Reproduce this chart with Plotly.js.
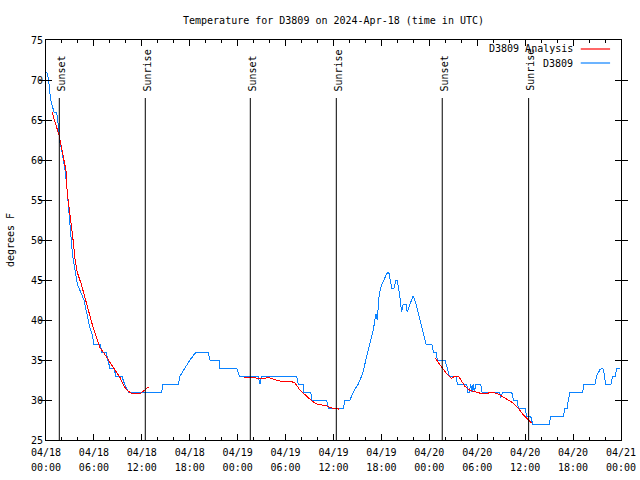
<!DOCTYPE html>
<html>
<head>
<meta charset="utf-8">
<script src="https://cdn.plot.ly/plotly-3.0.1.min.js"></script>
<style>
html,body{margin:0;padding:0;background:#fff;}
#chart{width:640px;height:480px;}
#chart .scatterlayer path.js-line{shape-rendering:crispEdges;}
</style>
</head>
<body>
<div id="chart"></div>
<script>
// ---- Data ----
const day18 = "2024-04-18 ", day19 = "2024-04-19 ", day20 = "2024-04-20 ";

const obsTime = [
  day18+"00:05", day18+"00:20", day18+"00:35", day18+"01:00", day18+"01:20", day18+"01:35", day18+"01:40",
  day18+"01:55", day18+"02:10", day18+"02:25", day18+"02:40", day18+"02:50", day18+"03:00", day18+"03:10",
  day18+"03:20", day18+"03:40", day18+"03:55", day18+"04:20", day18+"04:45", day18+"05:30", day18+"05:50",
  day18+"06:00", day18+"06:45", day18+"07:00", day18+"07:30", day18+"08:00", day18+"08:30", day18+"08:45",
  day18+"09:30", day18+"09:50", day18+"10:20", day18+"14:30", day18+"14:36", day18+"16:34", day18+"16:47",
  day18+"17:24", day18+"18:02", day18+"18:47", day18+"20:19", day18+"20:32", day18+"21:42", day18+"21:47",
  day18+"23:53",
  day19+"00:12", day19+"02:33", day19+"02:48", day19+"03:00", day19+"07:23", day19+"07:35", day19+"08:13",
  day19+"08:18", day19+"09:09", day19+"09:18", day19+"11:09", day19+"11:21", day19+"13:14", day19+"13:26",
  day19+"14:04", day19+"14:29", day19+"15:06", day19+"15:39", day19+"16:10", day19+"16:34", day19+"16:59",
  day19+"17:19", day19+"17:29", day19+"17:44", day19+"18:02", day19+"18:19", day19+"18:40", day19+"18:55",
  day19+"19:04", day19+"19:17", day19+"19:35", day19+"19:50", day19+"19:59", day19+"20:14", day19+"20:32",
  day19+"20:44", day19+"21:05", day19+"21:14", day19+"21:35", day19+"21:59", day19+"22:25", day19+"22:50",
  day19+"23:15", day19+"23:35",
  day20+"00:18", day20+"00:30", day20+"00:50", day20+"01:00", day20+"01:58", day20+"02:10", day20+"02:30",
  day20+"03:20", day20+"03:30", day20+"04:41", day20+"04:50", day20+"05:00", day20+"05:11", day20+"05:20",
  day20+"05:30", day20+"05:38", day20+"05:50", day20+"06:26", day20+"06:36", day20+"08:46", day20+"08:58",
  day20+"09:11", day20+"10:19", day20+"10:31", day20+"11:01", day20+"11:08", day20+"11:59", day20+"12:11",
  day20+"12:41", day20+"12:56", day20+"15:01", day20+"15:12", day20+"16:47", day20+"16:59", day20+"17:16",
  day20+"17:24", day20+"17:37", day20+"19:12", day20+"19:22", day20+"20:45", day20+"20:57", day20+"21:22",
  day20+"21:43", day20+"21:58", day20+"22:02", day20+"22:45", day20+"22:58", day20+"23:17", day20+"23:28",
  day20+"23:50"
];
const obsTemp = [
  71, 70, 67.5, 66, 66, 64, 62.5,
  61.5, 60, 58.5, 56, 54, 52, 50,
  48, 46, 44.5, 43.5, 42.5, 39, 38,
  37, 37, 36, 36, 34, 34, 33,
  33, 32, 31, 31, 32, 32, 33,
  34, 35, 36, 36, 35, 35, 34,
  34,
  33, 33, 32, 33, 33, 32, 32,
  31, 31, 30, 30, 29, 29, 30,
  30, 31, 32, 33.3, 35.5, 37.3, 38.75,
  40.8, 40, 43.3, 44.4, 45, 45.8, 46,
  45.3, 44, 44, 45, 45, 43.5, 41,
  42, 42, 41, 42, 43, 41.7, 40,
  38.3, 37,
  37, 36, 36, 35, 35, 34.2, 33,
  33, 32, 32, 31, 31, 32, 31,
  32, 31, 32, 32, 31, 31, 30.3,
  31, 31, 30, 30, 29, 29, 28,
  28, 27, 27, 28, 28, 29, 29,
  30, 31, 31, 32, 32, 33, 33.8,
  34, 33, 32, 32, 33, 33, 34,
  34
];

// analysis segments (null = gap between segments)
const anaTime = [
  day18+"00:45", day18+"01:25", day18+"01:40", day18+"02:10", day18+"02:30", day18+"02:40", day18+"03:10",
  day18+"03:25", day18+"03:36", day18+"03:51", day18+"04:06", day18+"04:25", day18+"04:51", day18+"05:31",
  day18+"05:55", day18+"06:21", day18+"06:46", day18+"07:10", day18+"07:48", day18+"08:26", day18+"08:51",
  day18+"09:16", day18+"09:41", day18+"10:06", day18+"10:46", day18+"11:46", day18+"12:11", day18+"12:24",
  day18+"12:49",
  day18+"18:00",
  day19+"00:48", day19+"01:57", day19+"02:35", day19+"03:12", day19+"03:50", day19+"04:28", day19+"05:05",
  day19+"05:31", day19+"06:46", day19+"07:11", day19+"07:48", day19+"08:39", day19+"09:16", day19+"09:54",
  day19+"10:31", day19+"11:09", day19+"11:46", day19+"12:24", day19+"12:44",
  day19+"18:00",
  day20+"00:45", day20+"01:20", day20+"01:45", day20+"02:10", day20+"02:48", day20+"03:13", day20+"03:38",
  day20+"04:03", day20+"04:28", day20+"05:05", day20+"05:56", day20+"06:33", day20+"07:11", day20+"07:49",
  day20+"08:38", day20+"09:16", day20+"09:53", day20+"10:31", day20+"11:08", day20+"11:41", day20+"12:06",
  day20+"12:31", day20+"12:49"
];
const anaTemp = [
  66, 64, 63, 60.4, 58.7, 55.8, 52,
  49.8, 47.9, 46.2, 45.4, 44.5, 42.9, 40.4,
  39, 37.7, 36.5, 36, 35, 34.1, 33.3,
  32.8, 31.9, 31.25, 30.8, 30.8, 31.1, 31.3,
  31.6,
  null,
  32.8, 32.8, 32.7, 32.7, 32.8, 32.6, 32.4,
  32.3, 32.3, 32.1, 31.25, 30.5, 29.9, 29.5,
  29.4, 29.25, 29, 29, 28.8,
  null,
  35.2, 34.4, 33.8, 33.3, 32.7, 33, 33,
  32.3, 31.7, 31.2, 31, 30.8, 30.8, 31,
  30.75, 30.4, 30, 29.6, 29, 28.25, 27.8,
  27.4, 27.1
];

const sunTime = [day18+"01:40", day18+"12:26", day19+"01:35", day19+"12:21", day20+"01:37", day20+"12:26"];
const sunLabel = ["Sunset", "Sunrise", "Sunset", "Sunrise", "Sunset", "Sunrise"];
const sunLineTop = 67.75;

const seriesNames = ["D3809 Analysis", "D3809"];
const seriesColors = ["#ff0000", "#0a82ff"];

// ---- Build ----
const FONT = "DejaVu Sans Mono, Liberation Mono, monospace";
const SIX_H = 6*3600*1000, TWO_H = 2*3600*1000;

const traces = [
  {x: anaTime, y: anaTemp, type: "scatter", mode: "lines", name: seriesNames[0], xaxis: "x2",
   line: {color: seriesColors[0], width: 1}, connectgaps: false, showlegend: false},
  {x: obsTime, y: obsTemp, type: "scatter", mode: "lines", name: seriesNames[1],
   line: {color: seriesColors[1], width: 1}, showlegend: false}
];

const shapes = sunTime.map(t => ({
  type: "line", xref: "x", yref: "y", x0: t, x1: t, y0: 25, y1: sunLineTop,
  line: {color: "#000", width: 1}
}));
const annotations = sunTime.map((t, i) => ({
  x: t, y: sunLineTop + 0.6, xref: "x", yref: "y", text: sunLabel[i], showarrow: false,
  textangle: -90, xanchor: "center", yanchor: "bottom", xshift: 2,
  font: {family: FONT, size: 10, color: "#000"}
}));

// gnuplot-style key: right-aligned text with line sample at right
const keyY = [0.9775, 0.9425];
seriesNames.forEach((n, i) => {
  annotations.push({x: 0.92, y: keyY[i], xref: "paper", yref: "paper", text: n, showarrow: false,
    xanchor: "right", yanchor: "middle", font: {family: FONT, size: 10, color: "#000"}});
  shapes.push({type: "line", xref: "paper", yref: "paper", x0: 0.930, x1: 0.981, y0: keyY[i], y1: keyY[i],
    line: {color: seriesColors[i], width: 1.2}});
});

const xRange = [day18+"00:00", "2024-04-21 00:00"];
const layout = {
  width: 640, height: 480,
  margin: {l: 46, r: 19, t: 40, b: 40, pad: 0},
  paper_bgcolor: "#fff", plot_bgcolor: "#fff",
  font: {family: FONT, size: 10, color: "#000"},
  title: {text: "Temperature for D3809 on 2024-Apr-18 (time in UTC)", x: 0.5, xref: "paper",
          y: 1 - 20/480, yref: "container", yanchor: "middle", font: {family: FONT, size: 10, color: "#000"}},
  showlegend: false,
  xaxis: {
    type: "date", range: xRange,
    tick0: day18+"00:00", dtick: SIX_H, tickformat: "%m/%d", ticklabelstandoff: 3,
    ticks: "inside", ticklen: 6, tickwidth: 1, tickcolor: "#000",
    minor: {dtick: TWO_H, ticks: "inside", ticklen: 3, tickcolor: "#000", showgrid: false},
    showline: true, linecolor: "#000", linewidth: 1, mirror: "allticks",
    showgrid: false, zeroline: false, automargin: false, fixedrange: true,
    tickfont: {family: FONT, size: 10, color: "#000"}
  },
  xaxis2: {
    type: "date", matches: "x", overlaying: "x", anchor: "y", side: "bottom",
    tick0: day18+"00:00", dtick: SIX_H, tickformat: "%H:%M", ticklabelstandoff: 20,
    ticks: "", showline: false, showgrid: false, zeroline: false, automargin: false, fixedrange: true,
    tickfont: {family: FONT, size: 10, color: "#000"}
  },
  yaxis: {
    range: [25, 75], dtick: 5, tick0: 25,
    ticks: "inside", ticklen: 6, tickwidth: 1, tickcolor: "#000",
    showline: true, linecolor: "#000", linewidth: 1, mirror: "allticks",
    showgrid: false, zeroline: false, automargin: false, fixedrange: true,
    tickfont: {family: FONT, size: 10, color: "#000"},
    title: {text: "degrees F", standoff: 14, font: {family: FONT, size: 10, color: "#000"}}
  },
  shapes: shapes,
  annotations: annotations
};

Plotly.newPlot("chart", traces, layout, {staticPlot: true, displayModeBar: false});
</script>
</body>
</html>
